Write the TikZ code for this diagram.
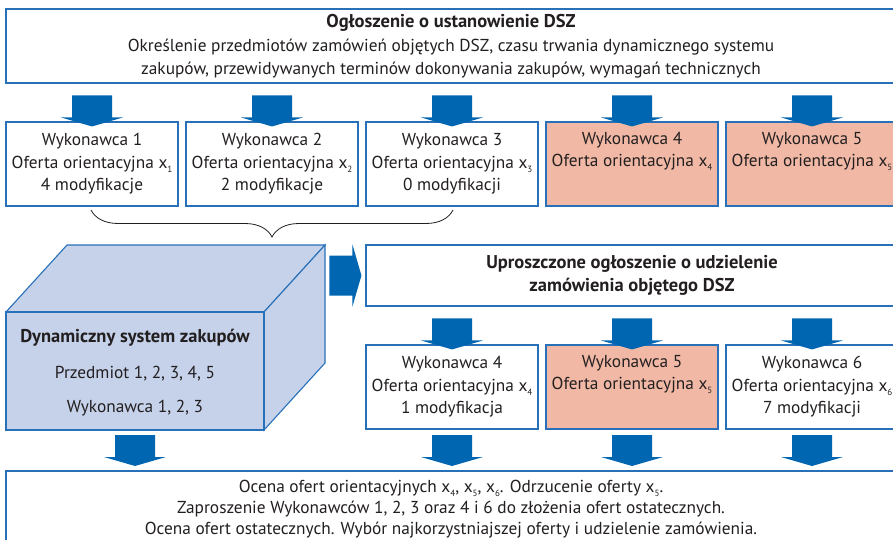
\documentclass[tikz,border=0pt]{standalone}
\usepackage{fontspec}
\setmainfont{PT Sans}
\usetikzlibrary{decorations.pathreplacing}
\definecolor{arrowblue}{RGB}{0,102,178}
\definecolor{lineblue}{RGB}{40,112,184}
\definecolor{salmon}{RGB}{241,185,165}
\definecolor{cubefill}{RGB}{197,210,234}
\definecolor{txt}{RGB}{35,31,32}
\newcommand\xs[1]{x\raisebox{-0.45ex}{\fontsize{9}{9}\selectfont #1}}
\newcommand\bigbf[1]{{\fontsize{18.5}{23}\selectfont\bfseries #1}}
\tikzset{
  box/.style={draw=lineblue, line width=1.1pt, fill=white, align=center, text=txt,
    font=\fontsize{17.3}{22.5}\selectfont, inner sep=0pt},
  wbox/.style={box, minimum width=172pt, minimum height=84pt},
  hot/.style={fill=salmon},
  darr/.pic={\fill[arrowblue] (-20,-31) -- (20,-31) -- (20,-9) -- (31,-9) -- (0,0) -- (-31,-9) -- (-20,-9) -- cycle;},
}
\begin{document}
\begin{tikzpicture}[x=1pt, y=-1pt]
\useasboundingbox (0,0) rectangle (893,540);
\clip (0,0) rectangle (893,540);
% top announcement
\node[box, minimum width=890pt, minimum height=74pt, font=\fontsize{17.3}{23}\selectfont] (ogl) at (451,46)
  {\bigbf{Ogłoszenie o ustanowienie DSZ}\\[1pt]Określenie przedmiotów zamówień objętych DSZ, czasu trwania dynamicznego systemu\\zakupów, przewidywanych terminów dokonywania zakupów, wymagań technicznych};
% row of contractors
\node[wbox] (w1) at (92,164) {Wykonawca 1\\Oferta orientacyjna \xs{1}\\4 modyfikacje};
\node[wbox] (w2) at (272,164) {Wykonawca 2\\Oferta orientacyjna \xs{2}\\2 modyfikacje};
\node[wbox] (w3) at (452,164) {Wykonawca 3\\Oferta orientacyjna \xs{3}\\0 modyfikacji};
\node[wbox, hot] (w4) at (632,164) {Wykonawca 4\\Oferta orientacyjna \xs{4}\\\strut};
\node[wbox, hot] (w5) at (812,164) {Wykonawca 5\\Oferta orientacyjna \xs{5}\\\strut};
\foreach \n in {w1,w2,w3,w4,w5} \pic at ([yshift=-5pt]\n.north) {darr};
% brace
\draw[txt, line width=0.8pt, decorate, decoration={brace, amplitude=27pt}] (453,210) -- (91,210);
% cube
\filldraw[fill=cubefill, draw=lineblue, line width=1.1pt, line join=miter] (6,312) -- (67,245) -- (325,245) -- (264,312) -- cycle;
\filldraw[fill=cubefill, draw=lineblue, line width=1.1pt, line join=miter] (264,312) -- (325,245) -- (325,363) -- (264,430) -- cycle;
\node[box, fill=cubefill, minimum width=258pt, minimum height=118pt] (dsz) at (135,371) {};
\node[text=txt, align=center, font=\fontsize{17.3}{22.5}\selectfont, inner sep=0pt] (dsztxt) at (135,373)
  {\bigbf{Dynamiczny system zakupów}\\[13pt]Przedmiot 1, 2, 3, 4, 5\\[12pt]Wykonawca 1, 2, 3};
% simplified notice
\node[box, minimum width=532pt, minimum height=61pt] (upr) at (632,275.5)
  {\bigbf{Uproszczone ogłoszenie o udzielenie}\\\bigbf{zamówienia objętego DSZ}};
\fill[arrowblue] ([xshift=-36pt, yshift=-20pt]upr.west) -- ([xshift=-13pt, yshift=-20pt]upr.west)
  -- ([xshift=-13pt, yshift=-31pt]upr.west) -- ([xshift=-4pt]upr.west)
  -- ([xshift=-13pt, yshift=31pt]upr.west) -- ([xshift=-13pt, yshift=20pt]upr.west)
  -- ([xshift=-36pt, yshift=20pt]upr.west) -- cycle;
% second row
\node[wbox] (v4) at (452,387) {Wykonawca 4\\Oferta orientacyjna \xs{4}\\1 modyfikacja};
\node[wbox, hot] (v5) at (632,387) {Wykonawca 5\\Oferta orientacyjna \xs{5}\\\strut};
\node[wbox] (v6) at (812,387) {Wykonawca 6\\Oferta orientacyjna \xs{6}\\7 modyfikacji};
\foreach \n in {v4,v5,v6} \pic at ([yshift=-5pt]\n.north) {darr};
% bottom evaluation
\node[box, minimum width=890pt, minimum height=76pt, font=\fontsize{17.3}{21}\selectfont] (ocena) at (451,509)
  {Ocena ofert orientacyjnych \xs{4}, \xs{5}, \xs{6}. Odrzucenie oferty \xs{5}.\\Zaproszenie Wykonawców 1, 2, 3 oraz 4 i 6 do złożenia ofert ostatecznych.\\Ocena ofert ostatecznych. Wybór najkorzystniajszej oferty i udzielenie zamówienia.};
\foreach \x in {135,452,632,812} \pic at (\x,466) {darr};
\end{tikzpicture}
\end{document}
